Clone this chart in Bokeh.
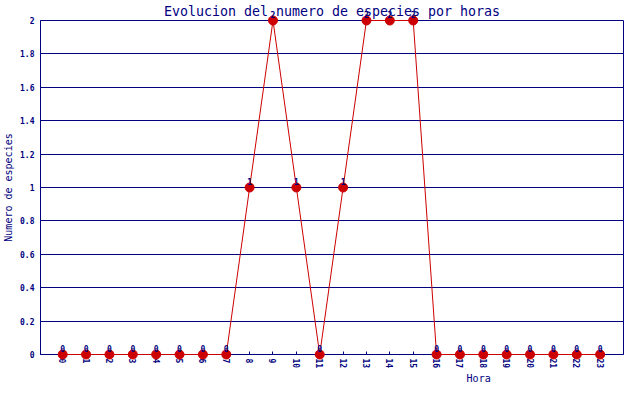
import math
from bokeh.plotting import figure
from bokeh.models import ColumnDataSource, FixedTicker, Range1d
from bokeh.core.properties import value
from bokeh.embed import file_html
from bokeh.resources import INLINE

# ---- data ----
hours = list(range(24))
hour_labels = [str(h) for h in hours]
species = [0, 0, 0, 0, 0, 0, 0, 0, 1, 2, 1, 0, 1, 2, 2, 2, 0, 0, 0, 0, 0, 0, 0, 0]
y_ticks = [0, 0.2, 0.4, 0.6, 0.8, 1, 1.2, 1.4, 1.6, 1.8, 2]
y_tick_labels = ["0", "0.2", "0.4", "0.6", "0.8", "1", "1.2", "1.4", "1.6", "1.8", "2"]
title_text = "Evolucion del numero de especies por horas"
x_title = "Hora"
y_title = "Numero de especies"

NAVY = "#000080"
RED = "#cc0000"
FONT = "DejaVu Sans Mono"

src = ColumnDataSource(dict(h=hours, s=species, lbl=[str(v) for v in species]))

p = figure(width=624, height=384, output_backend="svg", toolbar_location=None,
           x_range=Range1d(-0.95, 24.0), y_range=Range1d(0, 2),
           min_border_left=37, min_border_right=1, min_border_top=20, min_border_bottom=30,
           background_fill_color="white", border_fill_color="white",
           title=title_text)

p.title.align = "center"
p.title.text_font = FONT
p.title.text_font_size = "13.3px"
p.title.text_font_style = "normal"
p.title.text_color = NAVY
p.title.standoff = 3
p.title.offset = 0

p.outline_line_color = NAVY
p.outline_line_width = 1
p.outline_line_alpha = 1

# axes
p.xaxis.ticker = FixedTicker(ticks=hours)
p.xaxis.major_label_overrides = {h: l for h, l in zip(hours, hour_labels)}
p.xaxis.major_label_orientation = -math.pi / 2
p.xaxis.major_tick_in = 3
p.xaxis.major_tick_out = 0
p.xaxis.minor_tick_line_color = None
p.xaxis.major_label_standoff = 4

p.yaxis.ticker = FixedTicker(ticks=y_ticks)
p.yaxis.major_label_overrides = {t: l for t, l in zip(y_ticks, y_tick_labels)}
p.yaxis.major_tick_in = 0
p.yaxis.major_tick_out = 0
p.yaxis.minor_tick_line_color = None
p.yaxis.major_label_standoff = 6
p.yaxis.axis_label = y_title
p.yaxis.axis_label_standoff = 3
p.yaxis.axis_label_text_font = FONT
p.yaxis.axis_label_text_font_size = "10px"
p.yaxis.axis_label_text_font_style = "normal"
p.yaxis.axis_label_text_color = NAVY

for ax in (p.xaxis, p.yaxis):
    ax.axis_line_color = NAVY
    ax.major_tick_line_color = NAVY
    ax.major_label_text_color = NAVY
    ax.major_label_text_font = FONT
    ax.major_label_text_font_size = "8px"
    ax.major_label_text_font_style = "bold"

p.xgrid.visible = False
p.ygrid.grid_line_color = NAVY
p.ygrid.grid_line_width = 1
p.ygrid.grid_line_alpha = 1

# data
p.line("h", "s", source=src, line_color=RED, line_width=1, level="overlay")
p.scatter("h", "s", source=src, size=9, fill_color=RED, line_color=RED, level="overlay")
p.text("h", "s", text="lbl", source=src, y_offset=-6,
       text_align="center", text_baseline="alphabetic",
       text_font=value(FONT), text_font_size="8px", text_font_style="bold",
       text_color=NAVY, level="overlay")

# x axis title, placed towards the right like the reference
p.text(x=[17.8], y=[0], text=[x_title], y_offset=24,
       text_align="center", text_baseline="alphabetic",
       text_font=value(FONT), text_font_size="10px",
       text_color=NAVY, level="overlay")

open("out.html", "w").write(file_html(p, INLINE))
